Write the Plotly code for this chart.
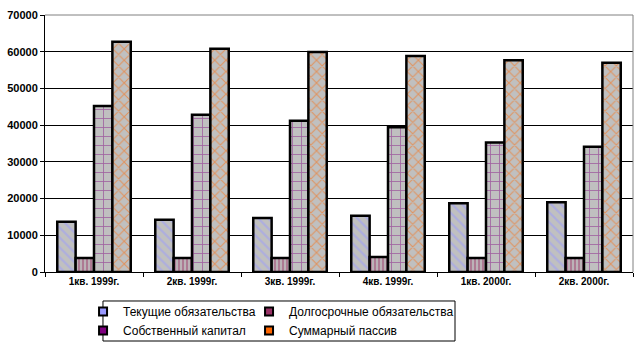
import plotly.graph_objects as go

categories = ["1кв. 1999г.", "2кв. 1999г.", "3кв. 1999г.", "4кв. 1999г.", "1кв. 2000г.", "2кв. 2000г."]
current_liab = [13700, 14200, 14700, 15300, 18700, 19000]
longterm_liab = [3800, 3800, 3800, 4100, 3800, 3800]
equity = [45200, 42800, 41200, 39400, 35300, 34100]
total_liab = [62700, 60800, 59900, 58800, 57700, 57000]

FONT = "Liberation Sans"

series = [
    ("Текущие обязательства", current_liab, "\\", "#9999ff", 7, 0.3, "legend"),
    ("Долгосрочные обязательства", longterm_liab, "|", "#993366", 4, 0.6, "legend2"),
    ("Собственный капитал", equity, "+", "#800080", 9, 0.17, "legend"),
    ("Суммарный пассив", total_liab, "x", "#ff6600", 8, 0.25, "legend2"),
]

fig = go.Figure()
for name, vals, shape, fg, sz, sol, lg in series:
    fig.add_trace(go.Bar(
        x=categories, y=vals, name=name, showlegend=False,
        marker=dict(
            color="#c0c0c0",
            line=dict(color="black", width=2.5),
            pattern=dict(shape=shape, fgcolor=fg, bgcolor="#c0c0c0", size=sz, solidity=sol, fillmode="overlay"),
        ),
    ))
    fig.add_trace(go.Scatter(
        x=[None], y=[None], mode="markers", name=name, legend=lg,
        marker=dict(symbol="square", size=8, color=fg, line=dict(color="black", width=2)),
    ))

leg_common = dict(
    orientation="v", xanchor="left", yref="container", y=0.144, yanchor="top",
    borderwidth=0, bgcolor="rgba(0,0,0,0)", font=dict(size=12, family=FONT),
    itemwidth=30, tracegroupgap=0,
)
fig.update_layout(
    width=638, height=347,
    margin=dict(l=45, r=5, t=15, b=75),
    paper_bgcolor="white", plot_bgcolor="white",
    barmode="group", bargap=0.25, bargroupgap=0,
    font=dict(family=FONT, color="black"),
    showlegend=True,
    legend=dict(x=0.0647, **leg_common),
    legend2=dict(x=0.347, **leg_common),
)
fig.update_xaxes(
    showline=True, linecolor="black", linewidth=1, mirror=False,
    ticks="outside", tickson="boundaries", ticklen=4, tickcolor="black",
    tickfont=dict(size=10, family=FONT, color="black", weight="bold"),
    showgrid=False,
)
fig.update_yaxes(
    range=[0, 70000], dtick=10000, tickformat="d",
    showline=True, linecolor="black", linewidth=1,
    ticks="outside", ticklen=4, tickcolor="black",
    showgrid=True, gridcolor="black", gridwidth=1,
    tickfont=dict(size=11, family=FONT, color="black", weight="bold"),
    zeroline=False,
)
fig.add_shape(type="line", xref="paper", yref="paper", x0=0, x1=1, y0=1, y1=1, line=dict(color="#808080", width=1))
fig.add_shape(type="line", xref="paper", yref="paper", x0=1, x1=1, y0=0, y1=1, line=dict(color="#808080", width=1))
# legend frame enclosing both legend columns
fig.add_shape(type="rect", xref="paper", yref="paper", x0=0.0986, x1=0.6973, y0=-0.2685, y1=-0.1128,
              line=dict(color="black", width=1))

fig.write_html("out.html")
